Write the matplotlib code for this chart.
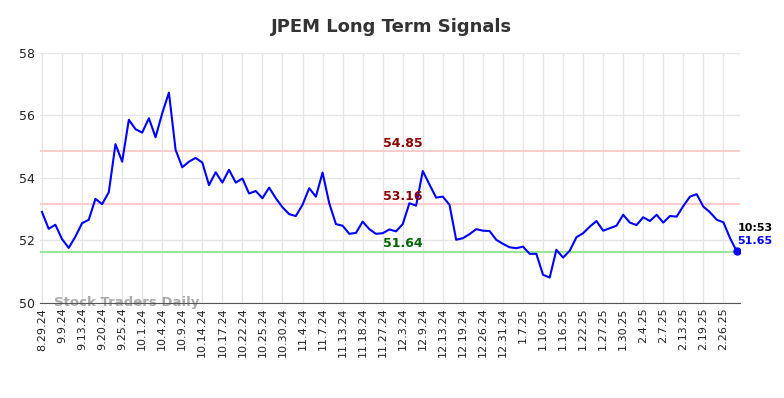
import matplotlib
matplotlib.use('Agg')
import matplotlib.pyplot as plt
import numpy as np

# closing signal values, one per trading day in the chart
values = [
    52.91, 52.37, 52.50, 52.04, 51.76, 52.12, 52.55, 52.66, 53.33, 53.16,
    53.54, 55.08, 54.52, 55.86, 55.56, 55.45, 55.91, 55.30, 56.07, 56.73,
    54.90, 54.34, 54.52, 54.64, 54.49, 53.77, 54.18, 53.85, 54.26, 53.85,
    53.98, 53.50, 53.58, 53.35, 53.69, 53.35, 53.06, 52.84, 52.78, 53.14,
    53.67, 53.40, 54.17, 53.19, 52.52, 52.47, 52.21, 52.24, 52.60, 52.36,
    52.21, 52.23, 52.35, 52.29, 52.52, 53.19, 53.11, 54.22, 53.79, 53.37,
    53.40, 53.14, 52.02, 52.07, 52.20, 52.36, 52.31, 52.30, 52.02, 51.89,
    51.78, 51.75, 51.80, 51.57, 51.57, 50.90, 50.81, 51.70, 51.45, 51.67,
    52.10, 52.23, 52.44, 52.62, 52.31, 52.39, 52.47, 52.82, 52.57, 52.49,
    52.74, 52.62, 52.82, 52.57, 52.78, 52.76, 53.10, 53.40, 53.48, 53.08,
    52.90, 52.66, 52.58, 52.07, 51.65,
]
tick_labels = [
    '8.29.24', '9.9.24', '9.13.24', '9.20.24', '9.25.24', '10.1.24', '10.4.24',
    '10.9.24', '10.14.24', '10.17.24', '10.22.24', '10.25.24', '10.30.24',
    '11.4.24', '11.7.24', '11.13.24', '11.18.24', '11.27.24', '12.3.24',
    '12.9.24', '12.13.24', '12.19.24', '12.26.24', '12.31.24', '1.7.25',
    '1.10.25', '1.16.25', '1.22.25', '1.27.25', '1.30.25', '2.4.25', '2.7.25',
    '2.13.25', '2.19.25', '2.26.25',
]
resistance = [54.85, 53.16]
support = [51.64]
last_time = '10:53'

x = np.arange(len(values))

fig = plt.figure(figsize=(7.84, 3.98), dpi=100)
ax = fig.add_axes([0.051, 0.239, 0.893, 0.628])

ax.grid(True, color='#e6e6e6', linewidth=1)
ax.set_axisbelow(True)

for lvl in resistance:
    ax.axhline(lvl, color='#ffcccc', linewidth=1.5, zorder=1)
for lvl in support:
    ax.axhline(lvl, color='#99e699', linewidth=1.5, zorder=1)

ax.plot(x, values, color='#0000ff', linewidth=1.5, zorder=3)
ax.plot(x[-1], values[-1], 'o', color='#0000ff', markersize=5, zorder=4)

# level labels
lx = 54
for lvl in resistance:
    ax.text(lx, lvl + 0.05, f'{lvl:.2f}', color='#8b0000', fontsize=9,
            fontweight='bold', ha='center', va='bottom')
for lvl in support:
    ax.text(lx, lvl + 0.05, f'{lvl:.2f}', color='#006400', fontsize=9,
            fontweight='bold', ha='center', va='bottom')

ax.text(x[-1] + 0.1, values[-1] + 0.75, last_time, color='black',
        fontsize=8, fontweight='bold', ha='left', va='center', clip_on=False)
ax.text(x[-1] + 0.1, values[-1] + 0.33, f'{values[-1]:.2f}', color='#0000ff',
        fontsize=8, fontweight='bold', ha='left', va='center', clip_on=False)

ax.text(1.8, 50.0, 'Stock Traders Daily', color='#aaaaaa', fontsize=9.5,
        fontweight='bold', ha='left', va='center', zorder=2)

ax.set_xlim(-0.3, 104.5)
ax.set_ylim(50, 58)
ax.set_yticks([50, 52, 54, 56, 58])
ax.set_xticks(x[::3][:len(tick_labels)])
ax.set_xticklabels(tick_labels, rotation=90, fontsize=8)
ax.tick_params(axis='both', length=0, labelsize=9, colors='#222222')
ax.tick_params(axis='x', labelsize=8)

for side in ['left', 'right', 'top']:
    ax.spines[side].set_visible(False)
ax.spines['bottom'].set_color('#555555')
ax.spines['bottom'].set_zorder(5)

fig.suptitle('JPEM Long Term Signals', x=0.5, y=0.955, fontsize=13,
             fontweight='bold', color='#333333')

fig.savefig('out.png', dpi=100)
